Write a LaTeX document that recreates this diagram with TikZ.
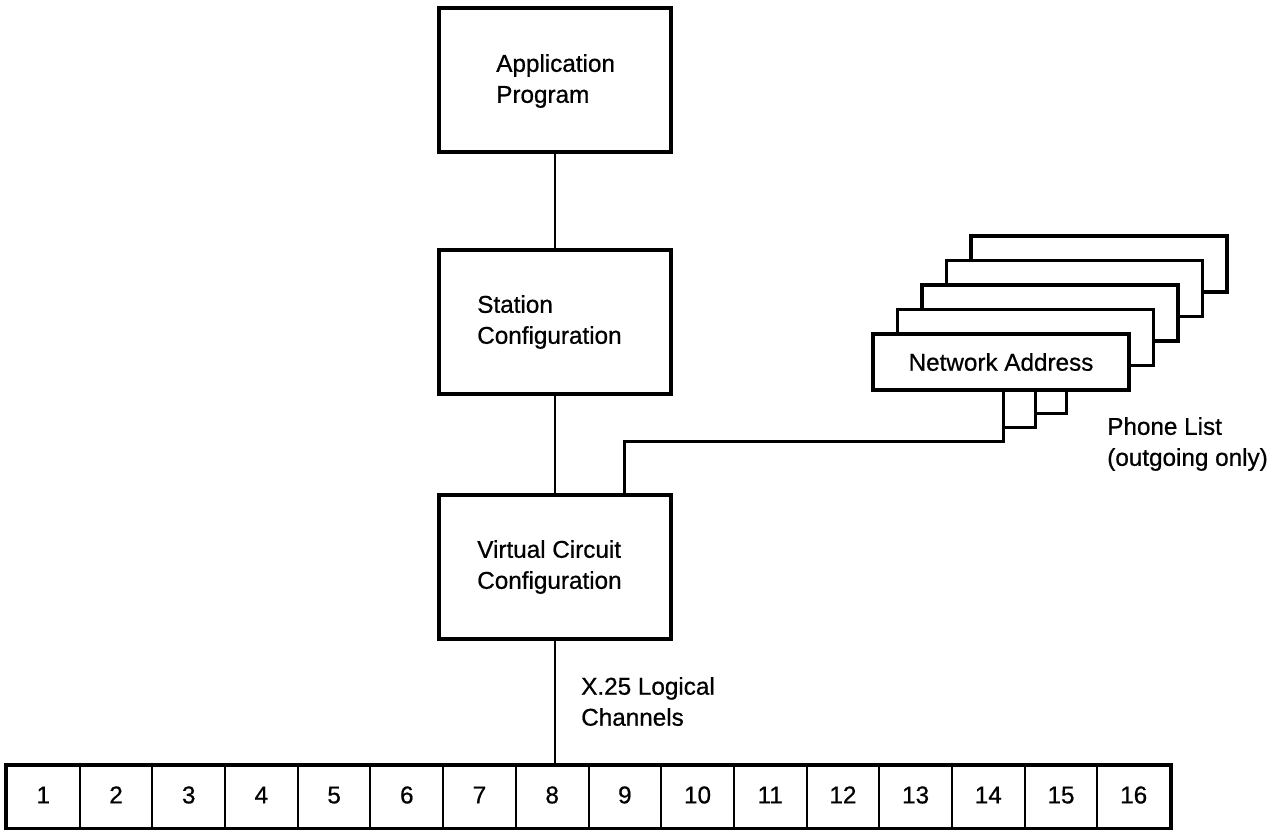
\documentclass[tikz,border=0pt]{standalone}
\usepackage{fontspec}
\setmainfont{Liberation Sans}[BoldFont={Liberation Sans},BoldFeatures={FakeBold=0.7}]
\usetikzlibrary{calc}
\begin{document}
\begin{tikzpicture}[x=0.75pt,y=-0.75pt,
  fnt/.style={font=\fontsize{18.2}{23.25}\selectfont\bfseries},
  txt/.style={fnt,inner sep=0pt,align=left},
  bigbox/.style={draw,line width=2.3pt,minimum width=174pt,minimum height=108pt,inner sep=0pt},
  nabox/.style={draw,line width=2.3pt,fill=white,minimum width=192pt,minimum height=42pt,inner sep=0pt,fnt},
  cell/.style={draw,line width=1.5pt,minimum width=54.52pt,minimum height=46.5pt,inner sep=0pt,text height=9.5pt,text depth=0pt,fnt},
  conn/.style={line width=1.6pt}]
\useasboundingbox (0,0) rectangle (1277,829);
% main boxes
\node[bigbox] (app) at (555,80) {};
\node[bigbox] (st) at (555,322) {};
\node[bigbox] (vc) at (555,567) {};
\node[txt,anchor=west] (appt) at (496,81) {Application\\Program};
\node[txt,anchor=west] (stt) at (477,322) {Station\\Configuration};
\node[txt,anchor=west] (vct) at (477,567) {Virtual Circuit\\Configuration};
% stacked network address boxes
\foreach \k in {4,3,2,1}{
  \node[nabox] (nb\k) at ({1001+24.5*\k},{362-24.5*\k}) {};
}
\node[nabox] (na) at (1001,362) {Network Address};
% channel row
\foreach \i in {1,...,16}{
  \node[cell] (c\i) at ({7+72.69*(\i-0.5)},797) {\i};
}
\draw[line width=2.3pt] (c1.north west) rectangle (c16.south east);
% connectors
\draw[conn] (app.south) -- (st.north);
\draw[conn] (st.south) -- (vc.north);
\draw[conn] (vc.south) -- (vc.south |- c8.north);
\coordinate (pl) at ($(vc.north east)+(-48,0)$);
\coordinate (t1) at ($(na.south west)+(132,0)$);
\coordinate (t2) at ($(na.south west)+(164,0)$);
\coordinate (t3) at ($(na.south west)+(195,0)$);
\draw[conn] (pl) -- ($(pl)+(0,-52)$) -| (t1);
\draw[conn] (t2) -- ($(t2)+(0,36)$) -- ($(t1)+(0,36)$);
\draw[conn] (t3) -- ($(t3)+(0,22)$) -- ($(t2)+(0,22)$);
% labels
\node[txt,anchor=west] (x25) at (581,701.5) {X.25 Logical\\Channels};
\node[txt,anchor=west] (phl) at (1107,444) {Phone List\\(outgoing only)};
\end{tikzpicture}
\end{document}
